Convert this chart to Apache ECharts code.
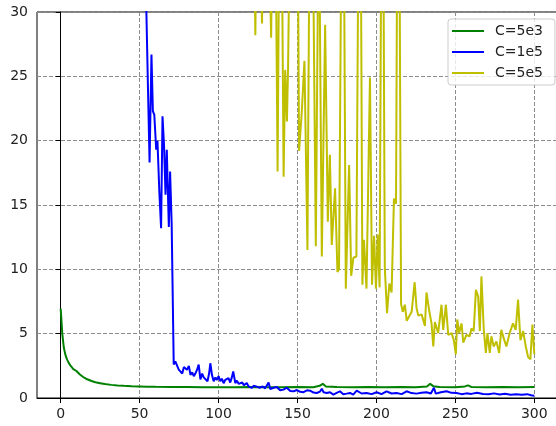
<!DOCTYPE html>
<html><head><meta charset="utf-8">
<script src="https://cdn.jsdelivr.net/npm/echarts@6/dist/echarts.min.js"></script>
<style>html,body{margin:0;padding:0;background:#fff}#c{width:556px;height:426px}</style>
</head><body><div id="c"></div>
<script>
const seriesNames = ['C=5e3', 'C=1e5', 'C=5e5'];
const xTicks = [0, 50, 100, 150, 200, 250, 300];
const yTicks = [0, 5, 10, 15, 20, 25, 30];

const greenPts = [[0,6.95],[1,5.0],[2,3.9],[3,3.35],[4,3.0],[5,2.75],[6,2.55],[7,2.4],[8,2.25],[9,2.15],[10,2.1],[11,2.0],[12,1.85],[13,1.75],[14,1.65],[15,1.55],[16,1.5],[18,1.4],[20,1.3],[22,1.22],[25,1.15],[28,1.08],[32,1.02],[36,0.98],[40,0.95],[45,0.92],[50,0.9],[55,0.88],[60,0.87],[70,0.86],[80,0.85],[90,0.84],[100,0.84],[110,0.83],[120,0.85],[130,0.83],[140,0.84],[150,0.85],[160,0.84],[164,0.95],[166,1.1],[168,0.9],[175,0.85],[185,0.84],[195,0.86],[205,0.83],[215,0.85],[225,0.84],[232,0.9],[234,1.1],[236,0.92],[240,0.85],[250,0.84],[256,0.9],[258,0.98],[260,0.86],[270,0.84],[280,0.85],[290,0.84],[300,0.85]];

const bluePts = [[52,40],[54.2,30.5],[55.3,24],[56.3,18.3],[57.5,26.7],[58.4,22.3],[59.3,22],[60.5,19.3],[61.3,20],[62.5,16],[63.6,13.2],[64.5,21.9],[65.5,19.5],[66.4,15.8],[67.2,19.3],[68.5,13.3],[69.3,17.6],[70.3,13.5],[71.6,2.6],[72.6,2.85],[73.7,3.0],[74.8,2.2],[75.9,2.3],[77,1.9],[78,2.4],[79,2.3],[80,2.2],[81.2,2.5],[82.2,1.8],[83.3,2.0],[84.3,1.7],[85.3,1.9],[86.4,2.2],[87.4,2.6],[88.5,1.45],[89.6,1.9],[90.6,1.6],[91.6,1.7],[93,1.3],[94,1.9],[94.8,2.7],[95.8,1.8],[96.9,1.3],[98,1.6],[99,1.4],[100,1.7],[101.1,1.3],[102.1,1.5],[103.2,1.15],[104.2,1.4],[105.3,1.3],[106.3,1.55],[107.4,1.2],[108.4,1.6],[109.3,2.07],[110.6,1.15],[111.6,1.35],[112.7,1.1],[113.7,1.0],[115,1.2],[116,1.0],[117.9,1.16],[119,0.9],[120,0.8],[121.1,0.78],[122.2,0.95],[124.3,0.88],[126,0.8],[128,0.9],[129.5,0.75],[130.7,0.9],[131.7,1.2],[132.7,0.7],[134.9,0.8],[136.9,0.86],[139,0.6],[141.1,0.65],[143.2,0.8],[145.4,0.55],[147.5,0.52],[149.6,0.62],[151.7,0.48],[153.8,0.45],[156,0.6],[158,0.57],[160.1,0.42],[162.2,0.39],[164.3,0.5],[165.4,0.72],[166.5,0.45],[168.5,0.39],[170.6,0.45],[172.7,0.26],[174.8,0.4],[176.9,0.52],[179,0.3],[181.1,0.34],[183.3,0.39],[185.3,0.26],[187.5,0.57],[188.5,0.5],[190.6,0.35],[193.8,0.39],[197,0.3],[200.1,0.45],[203.2,0.3],[206.4,0.52],[209.6,0.35],[212.7,0.39],[216,0.3],[219.1,0.52],[222.2,0.38],[225.4,0.34],[228.5,0.4],[231.7,0.45],[234.5,0.35],[235.6,0.5],[236.4,0.8],[237.6,0.34],[240.8,0.45],[244.4,0.52],[247.5,0.4],[250.7,0.39],[254,0.3],[257,0.36],[260,0.32],[263.7,0.4],[267.5,0.31],[271,0.3],[274.5,0.36],[278,0.28],[281.5,0.33],[285,0.26],[288.5,0.3],[292,0.25],[295.5,0.3],[298,0.22],[300,0.18]];

const yellowPts = [[100,45],[110,42],[118,40],[122.4,38],[123.3,28.2],[124.3,40],[126.5,38],[127.5,29.1],[128.6,40],[131,42],[133.3,28],[134.4,40],[136,38],[137.4,17.6],[138.6,40],[140,37],[141.2,17.2],[142.2,25.5],[143.3,21.5],[144,25.5],[145.5,40],[148,42],[150,40],[151,19.2],[152.6,22],[154.4,26.2],[156.3,11.5],[157.8,40],[159.6,38],[161.6,11.8],[163.5,40],[165.4,11.0],[167.5,29.0],[169.2,13.7],[170.5,18.9],[171.7,11.9],[173.8,16.3],[175.3,9.8],[176.3,10.0],[178,40],[179.3,38],[180.6,8.5],[182.7,18.1],[184,9.5],[185.4,10.9],[187.3,11.0],[188.8,40],[190.1,36],[191.1,8.8],[192.1,12.3],[193.7,8.5],[195.9,24.9],[197.2,8.8],[198.5,12.6],[199.7,8.5],[200.8,12.7],[202,8.6],[203.2,40],[204.3,38],[205.3,10.1],[206.7,6.6],[208.2,8.9],[209.6,8.2],[211.1,15.5],[212.4,15.1],[213.3,40],[214.5,38],[215.6,7.3],[216.7,6.7],[218,7.25],[219.2,6.0],[220.2,6.1],[222.3,6.7],[224.2,9.0],[225.4,7.0],[226.5,6.4],[228.6,6.5],[230.7,5.6],[231.7,8.2],[233.4,6.8],[234.9,5.8],[236,4.0],[237,5.9],[239.1,5.05],[241.2,7.25],[242.3,5.3],[244,7.25],[245.5,4.9],[247.6,5.05],[249,4.5],[250.3,3.4],[251.2,6.1],[252.4,5.05],[253.9,5.8],[255,4.3],[257,4.9],[259.1,4.8],[260.2,5.4],[261.6,5.2],[263,8.4],[264.4,7.9],[265.5,5.2],[266.5,9.45],[268,5.3],[269.3,3.5],[270.3,5.05],[271.8,3.5],[272.8,4.8],[274.3,4.0],[276,4.4],[277.7,3.5],[279.1,5.3],[280.6,4.65],[282.3,4.0],[284.4,5.05],[286.5,5.8],[288.2,5.3],[289.7,7.65],[291.2,4.5],[292.9,5.2],[294.6,4.0],[296,3.2],[297.5,3.0],[298.8,5.7],[300,3.4]];

const colors = ['#008000', '#0000ff', '#bfbf00'];
const font = 'DejaVu Sans';
const gridLine = {show: true, lineStyle: {type: [4, 2], color: '#8c8c8c', width: 1}};

const chart = echarts.init(document.getElementById('c'), null, {renderer: 'canvas'});
chart.setOption({
  animation: false,
  backgroundColor: '#fff',
  grid: {left: 37, top: 12, width: 521, bottom: 28, outerBoundsMode: 'none', containLabel: false,
         show: true, borderColor: '#000', borderWidth: 1, backgroundColor: '#fff'},
  legend: {
    orient: 'vertical', left: 448, top: 19,
    data: seriesNames,
    icon: 'rect',
    itemWidth: 32, itemHeight: 2, itemGap: 7,
    padding: [5, 12, 5, 4],
    backgroundColor: 'rgba(255,255,255,0.8)', borderColor: '#cccccc', borderWidth: 1, borderRadius: 3,
    textStyle: {fontFamily: font, fontSize: 14, lineHeight: 14, color: '#222', padding: [0, 0, 0, 6]}
  },
  xAxis: {
    type: 'value', min: -15, max: 315,
    axisLine: {show: true, onZero: false, lineStyle: {color: '#000'}},
    axisTick: {show: true, length: 5, customValues: xTicks, lineStyle: {color: '#000'}},
    axisLabel: {customValues: xTicks, margin: 9, fontFamily: font, fontSize: 14, color: '#222'},
    splitLine: gridLine
  },
  yAxis: {
    type: 'value', min: yTicks[0], max: yTicks[yTicks.length - 1], interval: 5,
    axisLine: {show: true, lineStyle: {color: '#000'}},
    axisTick: {show: true, length: 5, lineStyle: {color: '#000'}},
    axisLabel: {margin: 9, fontFamily: font, fontSize: 14, color: '#222'},
    splitLine: gridLine
  },
  series: [greenPts, bluePts, yellowPts].map((pts, i) => ({
    name: seriesNames[i], type: 'line', data: pts, showSymbol: false, symbol: 'none',
    clip: true, lineStyle: {color: colors[i], width: 2}, itemStyle: {color: colors[i]}
  }))
});
</script></body></html>
